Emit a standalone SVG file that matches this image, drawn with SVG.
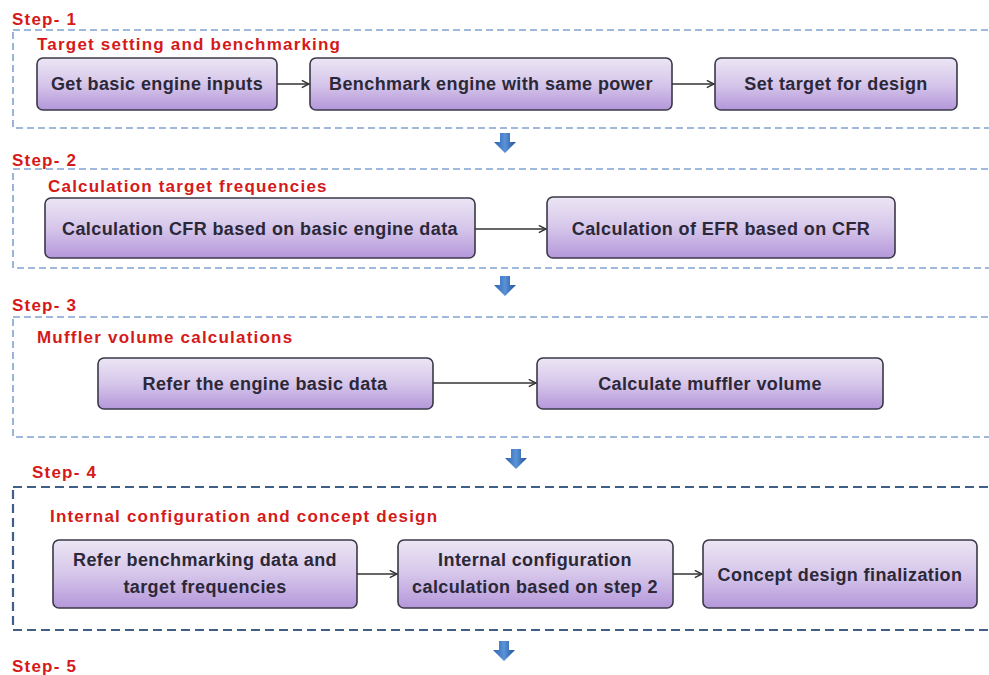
<svg xmlns="http://www.w3.org/2000/svg" width="989" height="675" viewBox="0 0 989 675">
<style>
.lbl{font-family:"Liberation Sans",Arial,sans-serif;font-weight:bold;fill:#d41a1a;font-size:17px;letter-spacing:1.2px}
.sec{fill:none;stroke:#7fa3cf;stroke-width:1.6;stroke-dasharray:7 4}
.sec4{fill:none;stroke:#3f5f86;stroke-width:2.2;stroke-dasharray:9 5}
.box{fill:url(#g);stroke:#3b3848;stroke-width:1.6}
.t{font-family:"Liberation Sans",Arial,sans-serif;font-weight:bold;fill:#2b2838;font-size:18px;letter-spacing:0.4px;text-anchor:middle}
.c{fill:none;stroke:#333;stroke-width:1.5;marker-end:url(#ah)}
</style>
<defs>
<linearGradient id="g" x1="0" y1="0" x2="0" y2="1">
<stop offset="0" stop-color="#ece6f4"/>
<stop offset="0.5" stop-color="#d6c6ea"/>
<stop offset="1" stop-color="#b497da"/>
</linearGradient>
<linearGradient id="bg" x1="0" y1="0" x2="1" y2="0">
<stop offset="0" stop-color="#2a62b0"/>
<stop offset="0.5" stop-color="#5b93d8"/>
<stop offset="1" stop-color="#1e4f95"/>
</linearGradient>
<marker id="ah" viewBox="0 0 10 10" refX="9" refY="5" markerWidth="9" markerHeight="9" orient="auto" markerUnits="userSpaceOnUse">
<path d="M1 1 L9 5 L1 9" fill="none" stroke="#333" stroke-width="1.6"/>
</marker>
<path id="down" d="M-5 0 H5 V9 H11 L0 20 L-11 9 H-5 Z"/>
</defs>

<g id="sections">
<rect class="sec" x="13" y="30" width="990" height="98"/>
<rect class="sec" x="13" y="169" width="990" height="99"/>
<rect class="sec" x="13" y="317" width="990" height="120"/>
<rect class="sec4" x="13" y="487" width="990" height="143"/>
</g>

<g id="labels">
<text class="lbl" x="12" y="25">Step- 1</text>
<text class="lbl" x="37" y="50">Target setting and benchmarking</text>
<text class="lbl" x="12" y="166">Step- 2</text>
<text class="lbl" x="48" y="192">Calculation target frequencies</text>
<text class="lbl" x="12" y="311">Step- 3</text>
<text class="lbl" x="37" y="343">Muffler volume calculations</text>
<text class="lbl" x="32" y="478">Step- 4</text>
<text class="lbl" x="50" y="522">Internal configuration and concept design</text>
<text class="lbl" x="12" y="672">Step- 5</text>
</g>

<g id="n1"><rect class="box" x="37" y="58" width="240" height="52" rx="6"/><text class="t" x="157" y="90">Get  basic engine inputs</text></g>
<g id="n2"><rect class="box" x="310" y="58" width="362" height="52" rx="6"/><text class="t" x="491" y="90">Benchmark engine with same power</text></g>
<g id="n3"><rect class="box" x="715" y="58" width="242" height="52" rx="6"/><text class="t" x="836" y="90">Set target for design</text></g>

<g id="n4"><rect class="box" x="45" y="198" width="430" height="60" rx="6"/><text class="t" x="260" y="235">Calculation CFR based on basic engine data</text></g>
<g id="n5"><rect class="box" x="547" y="197" width="348" height="61" rx="6"/><text class="t" x="721" y="235">Calculation of EFR based on CFR</text></g>

<g id="n6"><rect class="box" x="98" y="358" width="335" height="51" rx="6"/><text class="t" x="265" y="390">Refer the engine basic data</text></g>
<g id="n7"><rect class="box" x="537" y="358" width="346" height="51" rx="6"/><text class="t" x="710" y="390">Calculate muffler volume</text></g>

<g id="n8"><rect class="box" x="53" y="540" width="304" height="68" rx="6"/><text class="t" x="205" y="566">Refer benchmarking data and</text><text class="t" x="205" y="593">target frequencies</text></g>
<g id="n9"><rect class="box" x="398" y="540" width="275" height="68" rx="6"/><text class="t" x="535" y="566">Internal configuration</text><text class="t" x="535" y="593">calculation based on step 2</text></g>
<g id="n10"><rect class="box" x="703" y="540" width="274" height="68" rx="6"/><text class="t" x="840" y="581">Concept design finalization</text></g>

<g id="connectors">
<line class="c" x1="277" y1="84" x2="309" y2="84"/>
<line class="c" x1="672" y1="84" x2="714" y2="84"/>
<line class="c" x1="475" y1="229" x2="546" y2="229"/>
<line class="c" x1="433" y1="383" x2="536" y2="383"/>
<line class="c" x1="357" y1="574" x2="397" y2="574"/>
<line class="c" x1="673" y1="574" x2="702" y2="574"/>
<use href="#down" x="505" y="133" fill="url(#bg)"/>
<use href="#down" x="505" y="276" fill="url(#bg)"/>
<use href="#down" x="516" y="449" fill="url(#bg)"/>
<use href="#down" x="504" y="641" fill="url(#bg)"/>
</g>
</svg>
